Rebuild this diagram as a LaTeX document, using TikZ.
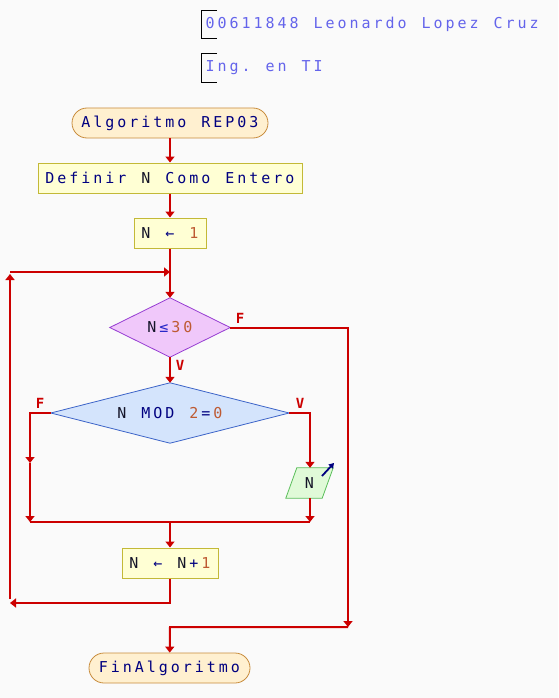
\documentclass[tikz,border=0pt]{standalone}
\usepackage{fontspec}
\newfontfamily\psf{DejaVu Sans Mono}
\usetikzlibrary{shapes.geometric,arrows.meta}
\definecolor{bgc}{RGB}{250,250,250}
\definecolor{conn}{RGB}{204,0,0}
\definecolor{navy}{RGB}{0,0,128}
\definecolor{opc}{RGB}{40,40,200}
\definecolor{numc}{RGB}{190,90,50}
\definecolor{idc}{RGB}{20,20,40}
\definecolor{hdr}{RGB}{100,100,235}
\definecolor{termfill}{RGB}{255,240,208}
\definecolor{termdraw}{RGB}{200,140,60}
\definecolor{procfill}{RGB}{255,255,212}
\definecolor{procdraw}{RGB}{195,185,55}
\definecolor{cafill}{RGB}{240,200,250}
\definecolor{cadraw}{RGB}{150,60,210}
\definecolor{cbfill}{RGB}{212,228,252}
\definecolor{cbdraw}{RGB}{60,100,200}
\definecolor{outfill}{RGB}{224,250,216}
\definecolor{outdraw}{RGB}{90,190,90}
\ExplSyntaxOn
\NewDocumentCommand\M{m}{\str_map_inline:nn {#1} {\makebox[12pt]{##1}}}
\ExplSyntaxOff
\newcommand\kw[1]{\textcolor{navy}{\M{#1}}}
\newcommand\op[1]{\textcolor{opc}{\M{#1}}}
\newcommand\nm[1]{\textcolor{numc}{\M{#1}}}
\newcommand\vr[1]{\textcolor{idc}{\M{#1}}}
\pgfdeclarelayer{back}
\pgfdeclarelayer{shapes}
\pgfsetlayers{back,shapes,main}
\begin{document}
\begin{tikzpicture}[x=1pt,y=-1pt,
  every node/.style={font=\psf\fontsize{15}{17}\selectfont},
  term/.style={draw=termdraw,fill=termfill,rounded corners=15pt,minimum height=30pt,inner sep=0pt,line width=0.8pt},
  proc/.style={draw=procdraw,fill=procfill,minimum height=30pt,inner sep=0pt,line width=1pt},
  dia/.style={inner sep=0pt,draw=none},
  conda/.style={draw=cadraw,fill=cafill,line width=0.8pt},
  condb/.style={draw=cbdraw,fill=cbfill,line width=0.8pt},
  outs/.style={draw=outdraw,fill=outfill,line width=0.8pt},
  lbl/.style={text=conn,font=\psf\bfseries\fontsize{14}{15}\selectfont,inner sep=0pt},
  hdrtxt/.style={text=hdr,anchor=west,inner sep=0pt},
  link/.style={draw=conn,line width=2pt},
  flow/.style={link,-{Triangle[length=6pt,width=9pt]}},
  brk/.style={draw=black,line width=1pt}
]
\begin{pgfonlayer}{back}
\fill[bgc] (0,0) rectangle (558,698);
\end{pgfonlayer}
\useasboundingbox (0,0) rectangle (558,698);

% header
\draw[brk] (217,11) -- (201,11) -- (201,39) -- (217,39);
\draw[brk] (217,54) -- (201,54) -- (201,83) -- (217,83);
\node[hdrtxt] (h1) at (204,24.5) {\M{00611848 Leonardo Lopez Cruz}};
\node[hdrtxt] (h2) at (204,67.5) {\M{Ing. en TI}};

% nodes
\node[term,minimum width=196pt] (start) at (170,123) {\kw{Algoritmo REP03}};
\node[proc,minimum width=264pt] (def) at (170,178) {\kw{Definir }\vr{N}\kw{ Como Entero}};
\node[proc,minimum width=72pt] (n1) at (170,233) {\vr{N}\kw{ ← }\nm{1}};
\node[dia,minimum width=120pt,minimum height=59pt] (d1) at (170,327.5) {\vr{N}\op{≤}\nm{30}};
\node[dia,minimum width=238pt,minimum height=60pt] (d2) at (170,413) {\vr{N}\kw{ MOD }\nm{2}\kw{=}\nm{0}};
\node[dia,minimum width=36pt,minimum height=30pt] (out) at (309.5,483) {\vr{N}};
\node[proc,minimum width=96pt] (inc) at (170,563) {\vr{N}\kw{ ← }\vr{N}\kw{+}\nm{1}};
\node[term,minimum width=161pt] (end) at (169.5,668) {\kw{FinAlgoritmo}};

\begin{pgfonlayer}{shapes}
\path[conda] (d1.west) -- (d1.north) -- (d1.east) -- (d1.south) -- cycle;
\path[condb] (d2.west) -- (d2.north) -- (d2.east) -- (d2.south) -- cycle;
\path[outs] ([xshift=5.5pt]out.north west) -- ([xshift=5.5pt]out.north east)
  -- ([xshift=-5.5pt]out.south east) -- ([xshift=-5.5pt]out.south west) -- cycle;
\end{pgfonlayer}

% labels
\node[lbl] (lf1) at (240,318) {F};
\node[lbl] (lv1) at (180,365) {V};
\node[lbl] (lf2) at (40,403) {F};
\node[lbl] (lv2) at (300,403) {V};

% coordinates
\coordinate (top) at (170,272);
\coordinate (lt) at (10,272);
\coordinate (ltx) at (10,274);
\coordinate (lbx) at (10,599);
\coordinate (lb) at (10,603);
\coordinate (bl) at (170,603);
\coordinate (rr) at (348,327.5);
\coordinate (rb) at (348,627);
\coordinate (cb) at (170,627);
\coordinate (fl) at (30,413);
\coordinate (fm) at (30,463);
\coordinate (fb) at (30,522);
\coordinate (vrc) at (310,413);
\coordinate (ob) at (310,522);
\coordinate (mj) at (170,522);
\coordinate (ia) at (322,476);
\coordinate (ib) at (334,463);

% connectors
\draw[flow] (start) -- (def);
\draw[flow] (def) -- (n1);
\draw[flow] (n1) -- (d1);
\draw[flow] (lt) -- (top);
\draw[flow] (d1) -- (d2);
\draw[flow] (d1.east) -- (rr) -- (rb);
\draw[flow] (rb) -- (cb) -- (end);
\draw[flow] (d2.west) -- (fl) -- (fm);
\draw[flow] (fm) -- (fb);
\draw[flow] (d2.east) -- (vrc) -- (out.north -| vrc);
\draw[flow] (out.south -| vrc) -- (ob);
\draw[link] (fb) -- (ob);
\draw[flow] (mj) -- (inc);
\draw[flow] (inc) -- (bl) -- (lb);
\draw[flow] (lbx) -- (ltx);
\draw[navy,line width=1.8pt,-{Triangle[length=5pt,width=6pt]}] (ia) -- (ib);
\end{tikzpicture}
\end{document}
